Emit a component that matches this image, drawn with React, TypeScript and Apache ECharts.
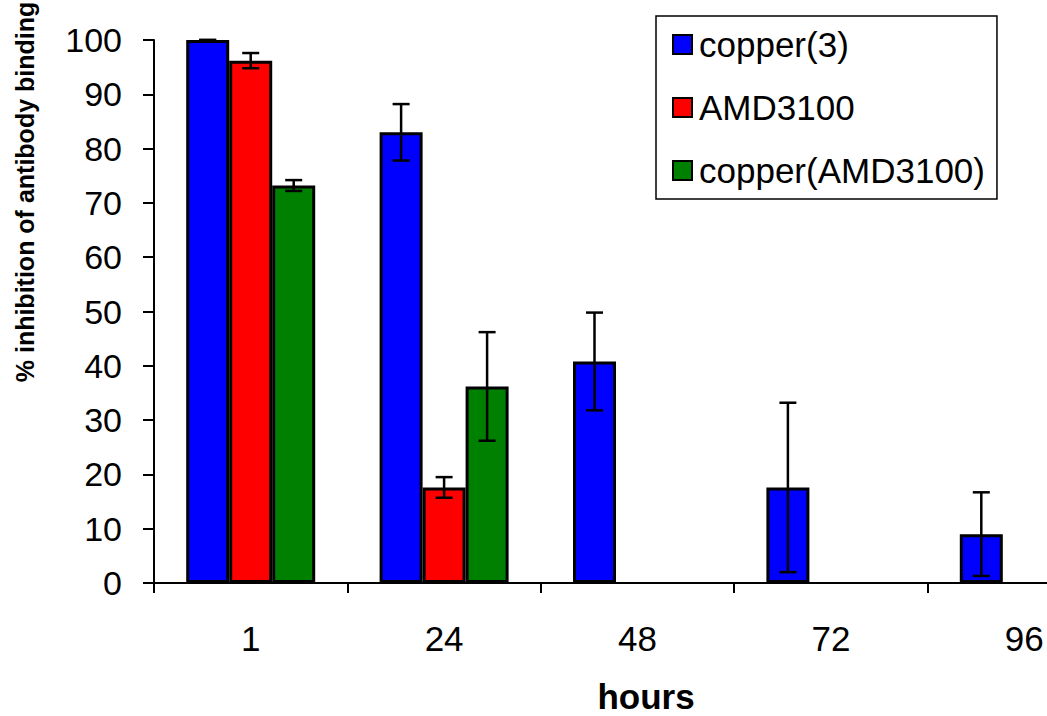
import React, { useEffect, useRef } from "react";
import * as echarts from "echarts";

const categories = ["1", "24", "48", "72", "96"];
const seriesNames = ["copper(3)", "AMD3100", "copper(AMD3100)"];
const copper3 = [100, 83, 40.8, 17.6, 9.0];
const copper3Err = [0, 5.2, 9.0, 15.6, 7.7];
const amd3100 = [96.2, 17.6, null, null, null];
const amd3100Err = [1.4, 1.9, null, null, null];
const copperAmd = [73.2, 36.2, null, null, null];
const copperAmdErr = [1.0, 10.0, null, null, null];
const yTicks = [0, 10, 20, 30, 40, 50, 60, 70, 80, 90, 100];
const colors = ["#0000FF", "#FF0000", "#008000"];

const FONT = "'Liberation Sans', Arial, sans-serif";
const BAR_W = 43;
const CHART_W = 1170;

export default function App() {
  const ref = useRef<HTMLDivElement>(null);
  useEffect(() => {
    if (!ref.current) return;
    document.body.style.margin = "0";
    const chart = echarts.init(ref.current, null, { renderer: "svg" });
    const values = [copper3, amd3100, copperAmd];
    const errs = [copper3Err, amd3100Err, copperAmdErr];
    const errData: any[] = [];
    values.forEach((arr, s) => {
      arr.forEach((v, i) => {
        const e = errs[s][i];
        if (v == null || e == null) return;
        errData.push([i, v - e, v + e, s]);
      });
    });
    const option: any = {
      animation: false,
      backgroundColor: "#fff",
      grid: { left: 154, top: 40, right: CHART_W - 154 - 967, bottom: 133 },
      legend: {
        orient: "vertical",
        left: 656,
        top: 16,
        padding: [11, 12, 11, 16],
        itemGap: 28,
        itemWidth: 19,
        itemHeight: 19,
        icon: "rect",
        borderColor: "#000",
        borderWidth: 1.5,
        borderRadius: 0,
        data: seriesNames,
        itemStyle: { borderColor: "#000", borderWidth: 2 },
        textStyle: {
          fontFamily: FONT,
          fontSize: 35,
          color: "#000",
          lineHeight: 32,
          padding: [0, 0, 0, 2],
        },
      },
      xAxis: {
        type: "category",
        data: categories,
        boundaryGap: true,
        axisLine: { lineStyle: { color: "#000", width: 2 } },
        axisTick: { show: true, alignWithLabel: false, length: 10, lineStyle: { color: "#000", width: 2 } },
        axisLabel: { fontFamily: FONT, fontSize: 35, color: "#000", margin: 38 },
        splitLine: { show: false },
      },
      yAxis: {
        type: "value",
        min: 0,
        max: 100,
        interval: 10,
        axisLine: { show: true, lineStyle: { color: "#000", width: 2 } },
        axisTick: { show: true, length: 11, lineStyle: { color: "#000", width: 2 } },
        axisLabel: {
          fontFamily: FONT,
          fontSize: 34,
          color: "#000",
          margin: 32,
          formatter: (v: number) => (yTicks.includes(v) ? String(v) : ""),
        },
        splitLine: { show: false },
      },
      series: [
        ...seriesNames.map((name, s) => ({
          name,
          type: "bar",
          data: values[s],
          barWidth: BAR_W,
          barGap: "0%",
          itemStyle: { color: colors[s], borderColor: "#000", borderWidth: 3 },
        })),
        {
          type: "custom",
          name: "err",
          data: errData,
          encode: { x: 0, y: [1, 2] },
          z: 10,
          clip: false,
          renderItem: (params: any, api: any) => {
            const idx = api.value(0);
            const lo = api.value(1);
            const hi = api.value(2);
            const s = api.value(3);
            const base = api.coord([idx, lo]);
            const top = api.coord([idx, hi]);
            const x = base[0] + (s - 1) * BAR_W;
            const cap = 8.5;
            const style = { stroke: "#000", lineWidth: 2.5 };
            return {
              type: "group",
              children: [
                { type: "line", shape: { x1: x, y1: base[1], x2: x, y2: top[1] }, style },
                { type: "line", shape: { x1: x - cap, y1: top[1], x2: x + cap, y2: top[1] }, style },
                { type: "line", shape: { x1: x - cap, y1: base[1], x2: x + cap, y2: base[1] }, style },
              ],
            };
          },
        },
      ],
      graphic: [
        {
          type: "text",
          x: 25,
          y: 192,
          rotation: Math.PI / 2,
          style: {
            text: "% inhibition of antibody binding",
            fontFamily: FONT,
            fontSize: 25,
            fontWeight: "bold",
            fill: "#000",
            align: "center",
            verticalAlign: "middle",
          },
        },
        {
          type: "text",
          x: 646,
          y: 696,
          style: {
            text: "hours",
            fontFamily: FONT,
            fontSize: 35,
            fontWeight: "bold",
            fill: "#000",
            align: "center",
            verticalAlign: "middle",
          },
        },
      ],
    };
    chart.setOption(option);
    return () => chart.dispose();
  }, []);
  return (
    <div style={{ position: "absolute", left: 0, top: 0, width: 1047, height: 716, overflow: "hidden" }}>
      <div ref={ref} style={{ width: CHART_W, height: 716 }} />
    </div>
  );
}
